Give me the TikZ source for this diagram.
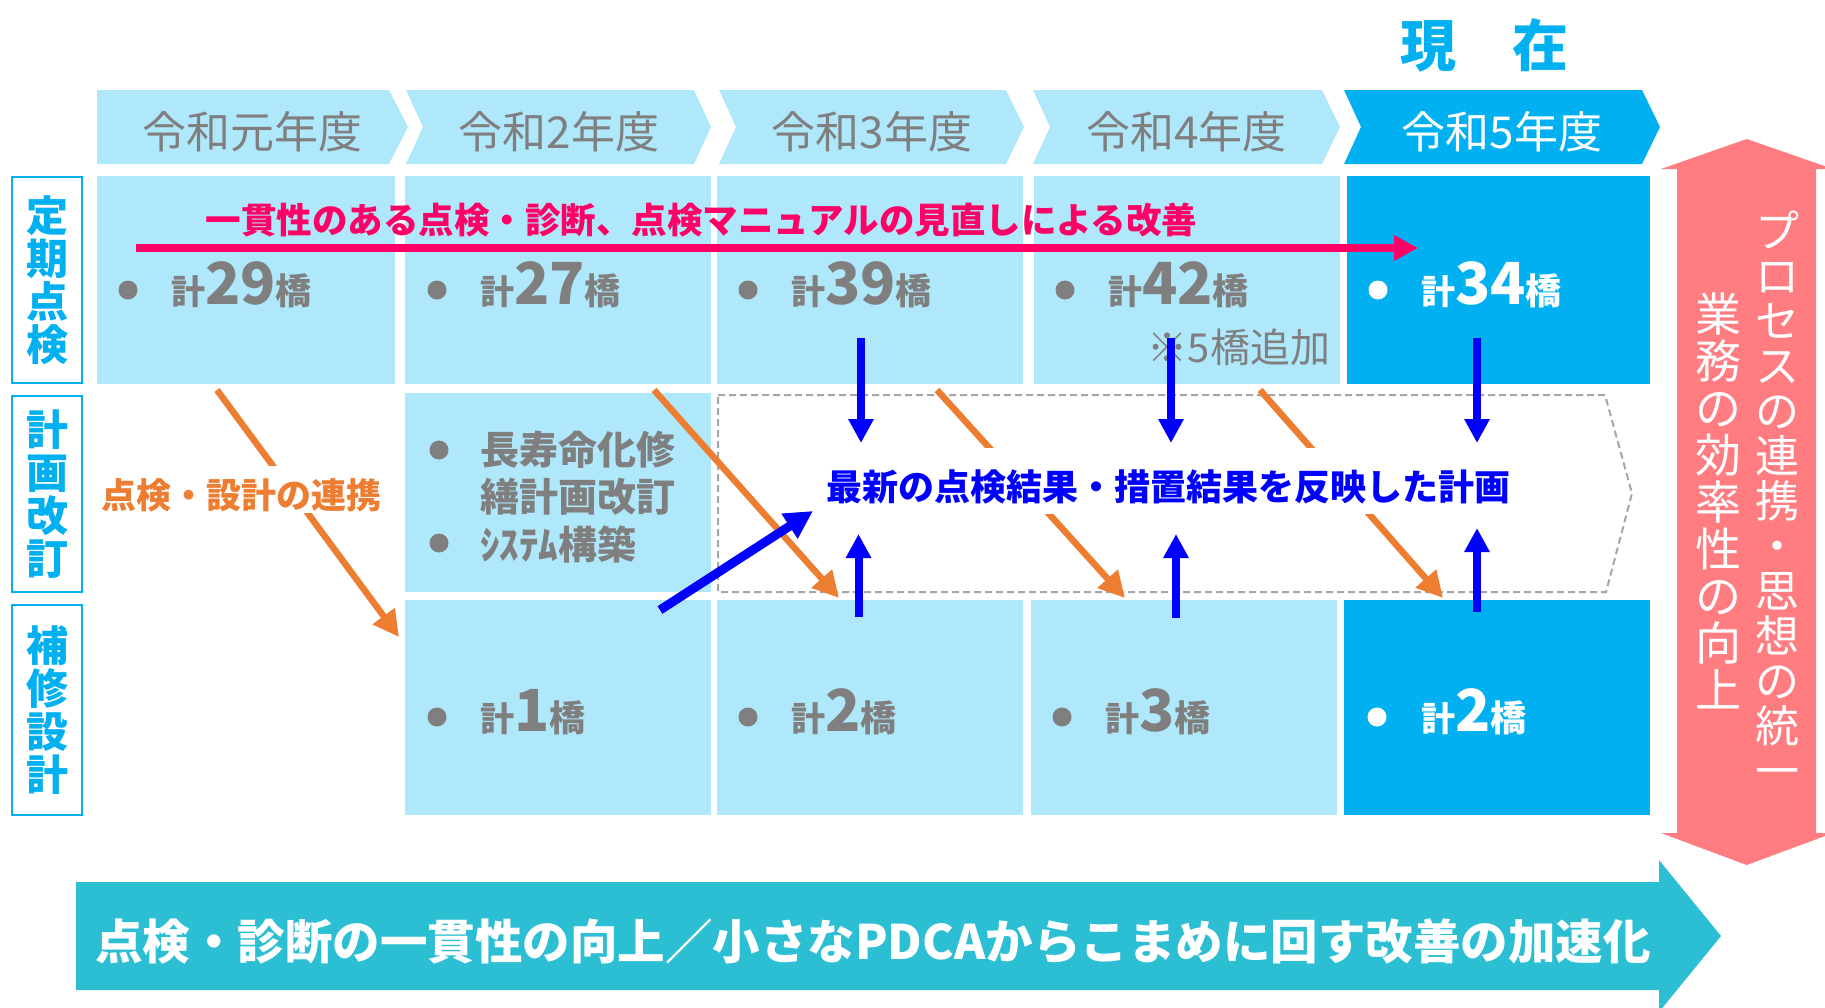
\documentclass[tikz,border=0pt]{standalone}
\usepackage{fontspec}
\setmainfont{Noto Sans CJK JP}
\usetikzlibrary{arrows.meta}
\definecolor{lb}{RGB}{176,232,251}
\definecolor{db}{RGB}{0,176,240}
\definecolor{gt}{RGB}{127,127,127}
\definecolor{rd}{RGB}{255,0,102}
\definecolor{og}{RGB}{237,125,49}
\definecolor{bl}{RGB}{0,0,255}
\definecolor{pk}{RGB}{255,124,128}
\definecolor{tq}{RGB}{44,191,212}
\definecolor{dg}{RGB}{166,166,166}
\newcommand\hashi[1]{{\fontsize{34pt}{34pt}\selectfont 計}{\fontsize{58pt}{58pt}\selectfont #1}{\fontsize{36pt}{36pt}\selectfont 橋}}
\begin{document}
\begin{tikzpicture}[x=1pt,y=-1pt,
  hdr/.style={anchor=base, inner sep=0pt, text=gt, font=\fontsize{44pt}{44pt}\selectfont},
  cellL/.style={fill=lb, anchor=north west, inner sep=0pt, outer sep=0pt},
  cellD/.style={fill=db, anchor=north west, inner sep=0pt, outer sep=0pt},
  bul/.style={circle, fill=gt, minimum size=19pt, inner sep=0pt},
  bulw/.style={circle, fill=white, minimum size=19pt, inner sep=0pt},
  cnt/.style={anchor=base west, inner sep=0pt, text=gt, font=\bfseries},
  cntw/.style={anchor=base west, inner sep=0pt, text=white, font=\bfseries},
  ptxt/.style={anchor=base west, inner sep=0pt, text=gt, font=\bfseries\fontsize{39pt}{39pt}\selectfont},
  lbox/.style={draw=db, line width=2.5pt, text=db, align=center, inner sep=0pt, minimum width=70pt, font=\bfseries\fontsize{42pt}{43pt}\selectfont},
  oarr/.style={og, line width=6.5pt, -{Triangle[length=26pt,width=26pt]}},
  barr/.style={bl, line width=8pt, -{Triangle[length=24pt,width=24pt]}},
  vtxt/.style={align=center, text=white, inner sep=0pt}
]
\useasboundingbox (0,0) rectangle (1825,1007);
\fill[white] (0,0) rectangle (1825,1007);

% header chevrons
\fill[lb] (97,90) -- (389,90) -- (408,127) -- (389,164) -- (97,164) -- cycle;
\fill[lb] (406,90) -- (694,90) -- (711,127) -- (694,164) -- (406,164) -- (423,127) -- cycle;
\fill[lb] (719,90) -- (1006,90) -- (1024,127) -- (1006,164) -- (719,164) -- (736,127) -- cycle;
\fill[lb] (1033,90) -- (1322,90) -- (1340,127) -- (1322,164) -- (1033,164) -- (1050,127) -- cycle;
\fill[db] (1344,90) -- (1642,90) -- (1660,127) -- (1642,164) -- (1344,164) -- (1361,127) -- cycle;
\node[hdr] (h1) at (252,148) {令和元年度};
\node[hdr] (h2) at (559,148) {令和2年度};
\node[hdr] (h3) at (872,148) {令和3年度};
\node[hdr] (h4) at (1186.5,148) {令和4年度};
\node[hdr, text=white] (h5) at (1502,148) {令和5年度};
\node[anchor=base, inner sep=0pt, text=db, font=\bfseries\fontsize{56pt}{56pt}\selectfont] (now) at (1484,66) {現　在};

% cells row 1
\node[cellL, minimum width=298pt, minimum height=208pt] (a1) at (97,176) {};
\node[cellL, minimum width=306pt, minimum height=208pt] (a2) at (405,176) {};
\node[cellL, minimum width=306pt, minimum height=208pt] (a3) at (717,176) {};
\node[cellL, minimum width=306pt, minimum height=208pt] (a4) at (1034,176) {};
\node[cellD, minimum width=303pt, minimum height=208pt] (a5) at (1347,176) {};
% row 2
\node[cellL, minimum width=306pt, minimum height=199pt] (b2) at (405,393) {};
% row 3
\node[cellL, minimum width=306pt, minimum height=215pt] (c2) at (405,600) {};
\node[cellL, minimum width=306pt, minimum height=215pt] (c3) at (717,600) {};
\node[cellL, minimum width=306pt, minimum height=215pt] (c4) at (1031,600) {};
\node[cellD, minimum width=306pt, minimum height=215pt] (c5) at (1344,600) {};

% dashed plan region
\draw[dg, line width=2pt, dash pattern=on 7pt off 4pt] (718,395) -- (1605,395) -- (1632,493.5) -- (1606,592) -- (718,592) -- cycle;

% left labels
\node[lbox, minimum height=206pt] (l1) at (47,280) {定\\期\\点\\検};
\node[lbox, minimum height=196pt] (l2) at (47,494) {計\\画\\改\\訂};
\node[lbox, minimum height=210pt] (l3) at (47,710) {補\\修\\設\\計};

% row 1 contents
\node[bul] (u1) at (128,290) {};
\node[bul] (u2) at (437,290) {};
\node[bul] (u3) at (748,290) {};
\node[bul] (u4) at (1065,290) {};
\node[bulw] (u5) at (1378,290) {};
\node[cnt] (n1) at (171,304) {\hashi{29}};
\node[cnt] (n2) at (480,304) {\hashi{27}};
\node[cnt] (n3) at (791,304) {\hashi{39}};
\node[cnt] (n4) at (1108,304) {\hashi{42}};
\node[cntw] (n5) at (1421,304) {\hashi{34}};
\node[anchor=base, inner sep=0pt, text=gt, font=\fontsize{40pt}{40pt}\selectfont] (add) at (1239,362) {※5橋追加};

% row 2 contents
\node[bul] (v1) at (439,450) {};
\node[bul] (v2) at (439,543) {};
\node[ptxt] (p1) at (480,464.5) {長寿命化修};
\node[ptxt] (p1b) at (480,511) {繕計画改訂};
\node[ptxt] (p2) at (480,559) {ｼｽﾃﾑ構築};

% row 3 contents
\node[bul] (w2) at (437,717) {};
\node[bul] (w3) at (748,717) {};
\node[bul] (w4) at (1062,717) {};
\node[bulw] (w5) at (1377,717) {};
\node[cnt] (m2) at (480,731) {\hashi{1}};
\node[cnt] (m3) at (791,731) {\hashi{2}};
\node[cnt] (m4) at (1105,731) {\hashi{3}};
\node[cntw] (m5) at (1421,731) {\hashi{2}};

% orange arrows
\coordinate (o1a) at (217,390); \coordinate (o1b) at (399,637);
\coordinate (o2a) at (654,390); \coordinate (o2b) at (839,598);
\coordinate (o3a) at (937,390); \coordinate (o3b) at (1125,598);
\coordinate (o4a) at (1260,390); \coordinate (o4b) at (1443,598);
\draw[oarr] (o1a) -- (o1b);
\draw[oarr] (o2a) -- (o2b);
\draw[oarr] (o3a) -- (o3b);
\draw[oarr] (o4a) -- (o4b);
\node[anchor=base, fill=white, inner xsep=3pt, inner ysep=0pt, text height=42pt, text depth=5pt, text=og, font=\bfseries\fontsize{35pt}{35pt}\selectfont] (link) at (241.5,508) {点検・設計の連携};

% plan text
\node[anchor=base, fill=white, inner xsep=6pt, inner ysep=0pt, text height=52.5pt, text depth=13.5pt, text=bl, font=\bfseries\fontsize{36pt}{36pt}\selectfont] (plan) at (1168.6,500.5) {最新の点検結果・措置結果を反映した計画};

% blue arrows
\coordinate (d3a) at (861,338); \coordinate (d3b) at (861,443);
\coordinate (d4a) at (1171,338); \coordinate (d4b) at (1171,443);
\coordinate (d5a) at (1477,338); \coordinate (d5b) at (1477,443);
\coordinate (e3a) at (858.5,617); \coordinate (e3b) at (858.5,534);
\coordinate (e4a) at (1176,618); \coordinate (e4b) at (1176,534);
\coordinate (e5a) at (1477,612); \coordinate (e5b) at (1477,528);
\coordinate (fa) at (660,610); \coordinate (fb) at (813,511);
\draw[barr] (d3a) -- (d3b);
\draw[barr] (d4a) -- (d4b);
\draw[barr] (d5a) -- (d5b);
\draw[barr] (e3a) -- (e3b);
\draw[barr] (e4a) -- (e4b);
\draw[barr] (e5a) -- (e5b);
\draw[bl, line width=9pt, -{Triangle[length=28pt,width=28pt]}] (fa) -- (fb);

% red arrow and text
\node[anchor=base, inner sep=0pt, text=rd, font=\bfseries\fontsize{35.5pt}{35.5pt}\selectfont] (red) at (701.5,233) {一貫性のある点検・診断、点検マニュアルの見直しによる改善};
\coordinate (ra) at (136,248); \coordinate (rb) at (1418,248);
\draw[rd, line width=8pt, -{Triangle[length=24pt,width=24pt]}] (ra) -- (rb);

% pink double arrow
\fill[pk] (1746.7,139) -- (1833,169) -- (1816,169) -- (1816,833) -- (1833,833) -- (1746.7,865) -- (1661,833) -- (1677,833) -- (1677,169) -- (1661,169) -- cycle;
\node[vtxt, font=\fontsize{44pt}{45pt}\selectfont] (pr) at (1777,499) {プ\\ロ\\セ\\ス\\の\\連\\携\\・\\思\\想\\の\\統\\一};
\node[vtxt, font=\fontsize{46pt}{47pt}\selectfont] (pl) at (1718,501) {業\\務\\の\\効\\率\\性\\の\\向\\上};

% bottom arrow
\fill[tq] (76,882) -- (1659,882) -- (1659,860) -- (1721,936) -- (1659,1012) -- (1659,990) -- (76,990) -- cycle;
\node[anchor=base, inner sep=0pt, text=white, font=\bfseries\fontsize{47.5pt}{47.5pt}\selectfont] (goal) at (873,959) {点検・診断の一貫性の向上／小さなPDCAからこまめに回す改善の加速化};
\end{tikzpicture}
\end{document}
